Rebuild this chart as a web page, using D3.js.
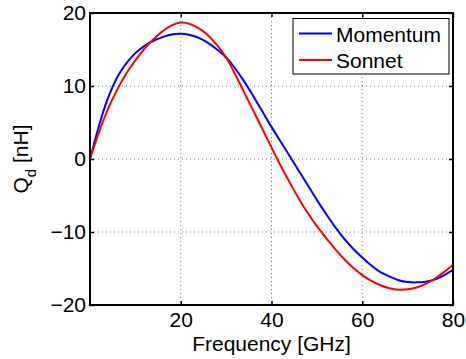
<!DOCTYPE html>
<html>
<head>
<meta charset="utf-8">
<script src="https://cdn.jsdelivr.net/npm/d3@7"></script>
<style>
  body { margin: 0; background: #fff; }
  svg { display: block; font-family: "Liberation Sans", Arial, sans-serif; }
</style>
</head>
<body>
<svg id="chart" width="466" height="359"></svg>
<script>
// frequency in GHz
const freq = [0, 2, 4, 6, 8, 10, 12, 14, 16, 18, 20, 22, 24, 26, 28, 30, 32, 34, 36, 38, 40,
  42, 44, 46, 48, 50, 52, 54, 56, 58, 60, 62, 64, 66, 68, 70, 72, 74, 76, 78, 80];
const momentum = [0, 4.6, 8.4, 11.2, 13.1, 14.5, 15.5, 16.2, 16.7, 17.05, 17.15, 17.0, 16.6, 15.9, 15.0, 13.9,
  12.4, 10.6, 8.6, 6.5, 4.4, 2.4, 0.4, -1.6, -3.6, -5.6, -7.5, -9.3, -10.9, -12.3, -13.5, -14.6, -15.5,
  -16.1, -16.6, -16.85, -16.9, -16.8, -16.5, -15.95, -15.2];
const sonnet = [0, 3.7, 6.9, 9.5, 11.7, 13.5, 15.1, 16.4, 17.5, 18.3, 18.7, 18.5, 17.9, 16.95, 15.6, 13.9,
  11.6, 9.1, 6.6, 4.1, 1.6, -0.9, -3.2, -5.4, -7.4, -9.2, -10.8, -12.3, -13.7, -14.9, -15.9, -16.7, -17.3,
  -17.7, -17.9, -17.85, -17.6, -17.1, -16.4, -15.5, -14.5];
const seriesNames = ["Momentum", "Sonnet"];
const seriesColors = ["#0000ff", "#ff0000"];
const xTicks = [20, 40, 60, 80];
const yTicks = [-20, -10, 0, 10, 20];
const gridX = [20, 40, 60];
const gridY = [-10, 0, 10];

const svg = d3.select("#chart");
const fs = 21;

const x = d3.scaleLinear().domain([0, 80]).range([90, 453]);
const y = d3.scaleLinear().domain([-20, 20]).range([305, 13]);

// dotted grid
svg.append("g").selectAll("line").data(gridX).enter().append("line")
  .attr("x1", d => x(d)).attr("x2", d => x(d))
  .attr("y1", y(20)).attr("y2", y(-20))
  .attr("stroke", "#777").attr("stroke-width", 1).attr("stroke-dasharray", "1,3");
svg.append("g").selectAll("line").data(gridY).enter().append("line")
  .attr("x1", x(0)).attr("x2", x(80))
  .attr("y1", d => y(d)).attr("y2", d => y(d))
  .attr("stroke", "#777").attr("stroke-width", 1).attr("stroke-dasharray", "1,3");

// curves
const line = d3.line().x(d => x(d[0])).y(d => y(d[1])).curve(d3.curveNatural);
[momentum, sonnet].forEach((vals, i) => {
  svg.append("path")
    .datum(freq.map((f, j) => [f, vals[j]]))
    .attr("d", line)
    .attr("fill", "none")
    .attr("stroke", seriesColors[i])
    .attr("stroke-width", 2);
});

// axes (ticks point inward)
function styleAxis(g) {
  g.select(".domain").remove();
  g.selectAll(".tick line").attr("stroke", "#000").attr("stroke-width", 1.5);
  g.selectAll(".tick text").attr("fill", "#000").style("font-size", fs + "px")
    .style("font-family", "'Liberation Sans', Arial, sans-serif");
}
svg.append("g").attr("transform", `translate(0,${y(-20)})`)
  .call(d3.axisBottom(x).tickValues(xTicks).tickSize(-4).tickSizeOuter(0).tickPadding(7))
  .call(styleAxis);
svg.append("g").attr("transform", `translate(0,${y(20)})`)
  .call(d3.axisTop(x).tickValues(xTicks).tickSize(-4).tickSizeOuter(0).tickFormat(""))
  .call(styleAxis);
svg.append("g").attr("transform", `translate(${x(0)},0)`)
  .call(d3.axisLeft(y).tickValues(yTicks).tickSize(-4).tickSizeOuter(0).tickPadding(4))
  .call(styleAxis);
svg.append("g").attr("transform", `translate(${x(80)},0)`)
  .call(d3.axisRight(y).tickValues(yTicks).tickSize(-4).tickSizeOuter(0).tickFormat(""))
  .call(styleAxis);

// box
svg.append("rect")
  .attr("x", x(0)).attr("y", y(20))
  .attr("width", x(80) - x(0)).attr("height", y(-20) - y(20))
  .attr("fill", "none").attr("stroke", "#000").attr("stroke-width", 2);

// axis labels
svg.append("text")
  .attr("x", (x(0) + x(80)) / 2).attr("y", 351)
  .attr("text-anchor", "middle").style("font-size", fs + "px")
  .text("Frequency [GHz]");

const yl = svg.append("text")
  .attr("transform", `translate(28,${(y(20) + y(-20)) / 2}) rotate(-90)`)
  .attr("text-anchor", "middle").style("font-size", fs + "px");
yl.append("tspan").text("Q");
yl.append("tspan").attr("dy", 8).style("font-size", "15px").text("d");
yl.append("tspan").attr("dy", -8).text(" [nH]");

// legend
const lg = svg.append("g");
lg.append("rect")
  .attr("x", 293).attr("y", 18.5).attr("width", 156).attr("height", 55.5)
  .attr("fill", "#fff").attr("stroke", "#000").attr("stroke-width", 1);
seriesNames.forEach((name, i) => {
  const ly = 33.5 + i * 26.5;
  lg.append("line")
    .attr("x1", 299).attr("x2", 332).attr("y1", ly).attr("y2", ly)
    .attr("stroke", seriesColors[i]).attr("stroke-width", 2);
  lg.append("text")
    .attr("x", 336).attr("y", ly + 8)
    .style("font-size", fs + "px").text(name);
});
</script>
</body>
</html>
